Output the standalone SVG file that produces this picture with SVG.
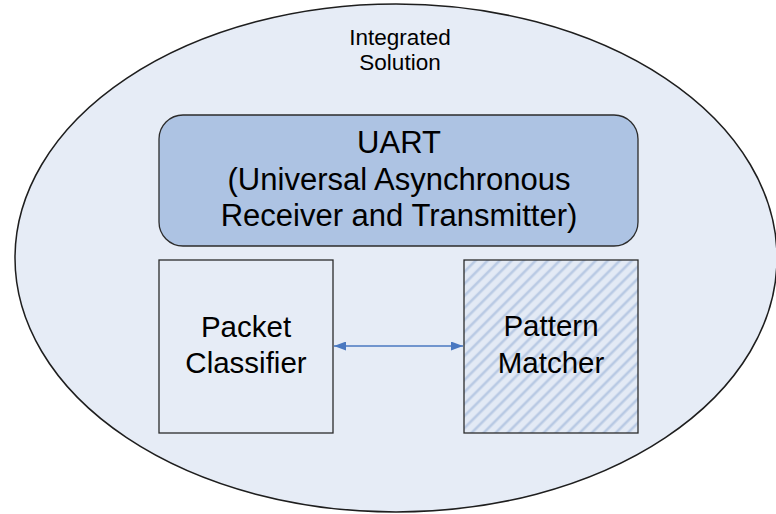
<svg xmlns="http://www.w3.org/2000/svg" width="776" height="514" viewBox="0 0 776 514">
  <style>
    .lbl { font-family: "Liberation Sans", Arial, sans-serif; fill: #000; text-anchor: middle; }
    .box { stroke: #2b2b2b; stroke-width: 1.3; }
    .conn { stroke: #4a78c0; stroke-width: 1.3; fill: none; }
  </style>
  <defs>
    <pattern id="hatch" patternUnits="userSpaceOnUse" width="8.5" height="8.5" patternTransform="rotate(45)">
      <rect width="8.5" height="8.5" fill="#e3eaf5"/>
      <line x1="2" y1="0" x2="2" y2="8.5" stroke="#b9cae4" stroke-width="2.6"/>
    </pattern>
    <marker id="arrow" markerWidth="12" markerHeight="9" refX="12" refY="4.5" orient="auto-start-reverse" markerUnits="userSpaceOnUse">
      <path d="M0,0 L12,4.5 L0,9 Z" fill="#4a78c0"/>
    </marker>
  </defs>

  <rect width="776" height="514" fill="#ffffff"/>

  <g id="integrated-solution">
    <ellipse cx="396" cy="258" rx="381" ry="254" fill="#e6ecf6" stroke="#1e1e1e" stroke-width="1.5"/>
    <text class="lbl" x="400" y="45" font-size="22.5">Integrated</text>
    <text class="lbl" x="400" y="70" font-size="22.5">Solution</text>
  </g>

  <g id="uart">
    <rect class="box" x="159" y="115" width="479" height="131" rx="24" ry="24" fill="#adc3e3"/>
    <text class="lbl" x="399" y="153" font-size="31">UART</text>
    <text class="lbl" x="399" y="190" font-size="31">(Universal Asynchronous</text>
    <text class="lbl" x="399" y="226" font-size="31">Receiver and Transmitter)</text>
  </g>

  <g id="packet-classifier">
    <rect class="box" x="159" y="260" width="174" height="173" fill="#e6ecf6"/>
    <text class="lbl" x="246" y="336.5" font-size="29.5">Packet</text>
    <text class="lbl" x="246" y="373" font-size="29.5">Classifier</text>
  </g>

  <g id="pattern-matcher">
    <rect class="box" x="464" y="260" width="174" height="173" fill="url(#hatch)"/>
    <text class="lbl" x="551" y="336" font-size="29.5">Pattern</text>
    <text class="lbl" x="551" y="373" font-size="29.5">Matcher</text>
  </g>

  <g id="connectors">
    <line class="conn" x1="334" y1="346" x2="463" y2="346" marker-start="url(#arrow)" marker-end="url(#arrow)"/>
  </g>
</svg>
